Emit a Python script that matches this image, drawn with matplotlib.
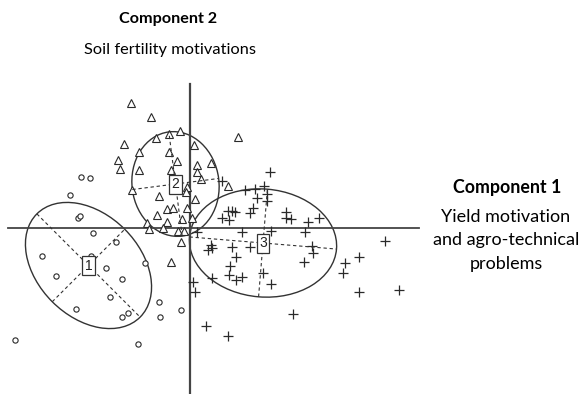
#!/usr/bin/env python3

import numpy as np
import matplotlib
matplotlib.use("Agg")
import matplotlib.pyplot as plt
from matplotlib.patches import Ellipse

# cluster 1 (circles): scores on component 1 / component 2
c1_x = [-10.9, -10.0, -12.0, -11.2, -11.0, -9.7, -7.4, -14.8, -9.9, -8.4, -13.4,
        -6.8, -4.5, -8.0, -11.4, -6.8, -6.2, -3.1, -3.0, -0.9, -17.5, -5.2]
c1_y = [5.1, 5.0, 3.3, 1.0, 1.2, -0.5, -1.4, -2.8, -2.8, -4.0, -4.8,
        -5.1, -3.5, -6.9, -8.1, -8.9, -8.5, -7.4, -8.9, -8.2, -11.2, -11.6]

# cluster 2 (triangles)
c2_x = [-5.9, -3.9, -2.1, -1.0, -3.4, -6.6, -5.1, -2.1, 0.4, 4.8, -1.3, -7.2, -7.0,
        -5.1, -1.9, 0.7, 0.7, 2.1, 1.1, -0.3, -0.4, -5.8, -3.1, 0.5, -2.3, -1.7,
        -0.3, -3.3, -2.3, -0.8, 0.2, -4.3, -4.1, -2.7, -1.2, -0.6, -0.9, 3.8, -1.9]
c2_y = [12.5, 11.1, 9.4, 9.7, 9.0, 8.4, 7.6, 7.6, 8.3, 9.1, 6.7, 6.8, 5.9,
        5.8, 5.8, 6.3, 5.6, 6.5, 4.9, 4.1, 3.6, 3.8, 3.2, 2.9, 1.9, 2.0,
        2.0, 1.3, 0.6, 0.9, 1.0, 0.5, -0.1, 0.0, -0.3, -0.3, -1.4, 4.2, -3.4]

# cluster 3 (plus signs)
c3_x = [8.0, 3.2, 5.5, 6.5, 7.4, 6.7, 7.7, 7.7, 6.3, 6.0, 3.8, 4.2, 4.5, 3.2, 3.9,
        9.6, 9.6, 10.1, 11.8, 12.9, 0.7, 5.2, 8.1, 11.5, 19.5, 2.1, 1.8, 2.2, 4.2,
        6.0, 12.2, 12.3, 4.6, 4.0, 2.2, 3.9, 4.6, 5.2, 7.3, 8.1, 11.4, 16.9, 15.5,
        15.3, 0.3, 0.5, 16.9, 20.9, 10.3, 1.6, 3.8]
c3_y = [5.6, 4.7, 3.8, 3.9, 4.2, 3.0, 3.4, 2.7, 2.0, 1.5, 1.7, 1.7, 1.6, 1.0, 0.8,
        1.6, 1.0, 0.9, 0.6, 1.0, -0.4, -0.4, -0.3, -0.4, -1.3, -1.7, -2.2, -2.0, -1.9,
        -1.9, -1.8, -2.5, -2.9, -3.8, -5.0, -4.7, -5.2, -4.9, -4.5, -5.6, -3.4, -2.9, -3.5,
        -4.5, -5.4, -6.4, -6.4, -6.2, -8.6, -9.8, -10.8]

# concentration ellipses: centre, full axis lengths, rotation (deg)
ell_labels = ["1", "2", "3"]
ell_cx = [-10.15, -1.45, 7.3]
ell_cy = [-3.75, 4.4, -1.5]
ell_w = [14.6, 8.7, 14.75]
ell_h = [10.25, 10.5, 10.8]
ell_ang = [-45.0, 7.3, -4.7]

LINE = "#333333"
MARK = "#2a2a2a"


def draw_ellipse(ax, cx, cy, w, h, ang, label):
    ax.add_patch(Ellipse((cx, cy), w, h, angle=ang, fill=False,
                         edgecolor=LINE, lw=1.0))
    t = np.deg2rad(ang)
    # dashed principal axes through the centre
    for half, d in ((w / 2, (np.cos(t), np.sin(t))),
                    (h / 2, (-np.sin(t), np.cos(t)))):
        ax.plot([cx - half * d[0], cx + half * d[0]],
                [cy - half * d[1], cy + half * d[1]],
                ls=(0, (3, 2.5)), color=LINE, lw=0.8)
    ax.text(cx, cy, label, ha="center", va="center", fontsize=10,
            family="Liberation Sans", color="#222222", zorder=5,
            bbox=dict(boxstyle="square,pad=0.18", fc="white", ec=LINE, lw=0.9))


def main():
    fig = plt.figure(figsize=(5.83, 3.94), dpi=100)
    ax = fig.add_axes([0, 0, 1, 1])
    ax.set_xlim(-19.0, 39.3)
    ax.set_ylim(-16.6, 22.8)
    ax.axis("off")

    # component axes
    ax.plot([-18.2, 22.9], [0, 0], color="#444444", lw=1.3)
    ax.plot([0, 0], [14.4, -16.6], color="#444444", lw=1.6)

    ax.plot(c1_x, c1_y, ls="none", marker="o", ms=3.8, mfc="white",
            mec=MARK, mew=0.8)
    ax.plot(c2_x, c2_y, ls="none", marker="^", ms=5.8, mfc="white",
            mec=MARK, mew=0.8)
    ax.plot(c3_x, c3_y, ls="none", marker="+", ms=6.6, color=MARK, mew=0.9)

    for i in range(3):
        draw_ellipse(ax, ell_cx[i], ell_cy[i], ell_w[i], ell_h[i], ell_ang[i],
                     ell_labels[i])

    font = ["Lato", "DejaVu Sans"]
    fig.text(0.288, 0.952, "Component 2", ha="center", va="center",
             fontsize=11.6, fontweight="bold", family=font)
    fig.text(0.292, 0.873, "Soil fertility motivations", ha="center",
             va="center", fontsize=11.8, family=font)
    fig.text(0.870, 0.525, "Component 1", ha="center", va="center",
             fontsize=12.8, fontweight="bold", family=font)
    for y, line in zip([217, 240, 264],
                       ["Yield motivation", "and agro-technical", "problems"]):
        fig.text(0.868, 1 - y / 394, line, ha="center", va="center",
                 fontsize=13, family=font)

    fig.savefig("out.png", dpi=100)


if __name__ == "__main__":
    main()
